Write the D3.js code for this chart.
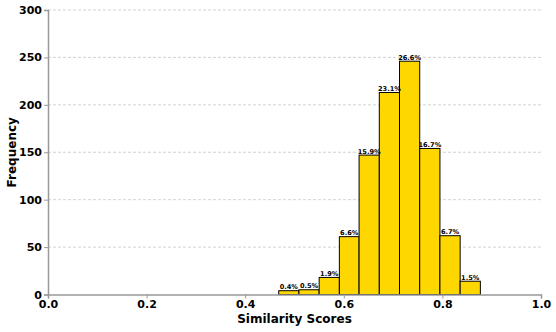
<!DOCTYPE html>
<html>
<head>
<meta charset="utf-8">
<script src="https://cdn.jsdelivr.net/npm/d3@7"></script>
<style>
  body { margin: 0; background: #fff; }
  text { font-family: "DejaVu Sans", sans-serif; font-weight: bold; }
</style>
</head>
<body>
<div id="chart"></div>
<script>
// histogram bins (edges) and counts
const binEdges = [0.468, 0.509, 0.550, 0.591, 0.631, 0.672, 0.713, 0.754, 0.795, 0.836, 0.877];
const counts = [4, 5, 18, 61, 147, 213, 246, 154, 62, 14];
const xTicks = [0, 0.2, 0.4, 0.6, 0.8, 1.0];
const yTicks = [0, 50, 100, 150, 200, 250, 300];

const total = d3.sum(counts);
const bins = counts.map((c, i) => ({ x0: binEdges[i], x1: binEdges[i + 1], count: c }));

const fullWidth = 556;
const fullHeight = 332;
const margin = { top: 10, right: 15, bottom: 37.5, left: 48 };
const width = fullWidth - margin.left - margin.right;
const height = fullHeight - margin.top - margin.bottom;

const svg = d3.select("#chart")
  .append("svg")
  .attr("width", fullWidth)
  .attr("height", fullHeight)
  .append("g")
  .attr("transform", `translate(${margin.left},${margin.top})`);

const x = d3.scaleLinear().domain([0, 1]).range([0, width]);
const y = d3.scaleLinear().domain([0, 300]).range([height, 0]);

// grid
svg.append("g")
  .selectAll("line")
  .data(yTicks.filter(d => d > 0))
  .enter()
  .append("line")
  .attr("x1", 0)
  .attr("x2", width)
  .attr("y1", d => y(d))
  .attr("y2", d => y(d))
  .attr("stroke", "#c8c8c8")
  .attr("stroke-width", 0.8)
  .attr("stroke-dasharray", "3,2");

// bars
svg.append("g")
  .selectAll("rect")
  .data(bins)
  .enter()
  .append("rect")
  .attr("x", d => x(d.x0))
  .attr("width", d => x(d.x1) - x(d.x0))
  .attr("y", d => y(d.count))
  .attr("height", d => height - y(d.count))
  .attr("fill", "#FFD700")
  .attr("stroke", "#000")
  .attr("stroke-width", 1);

// percentage labels
svg.append("g")
  .selectAll("text")
  .data(bins)
  .enter()
  .append("text")
  .attr("x", d => (x(d.x0) + x(d.x1)) / 2)
  .attr("y", d => y(d.count) - 1.5)
  .attr("text-anchor", "middle")
  .attr("font-size", "6.6px")
  .attr("fill", "#000")
  .text(d => (d.count / total * 100).toFixed(1) + "%");

// axes
const xAxis = d3.axisBottom(x).tickValues(xTicks).tickFormat(d3.format(".1f")).tickSizeOuter(0).tickSize(4).tickPadding(2);
const yAxis = d3.axisLeft(y).tickValues(yTicks).tickSizeOuter(0).tickSize(4).tickPadding(2);

const gx = svg.append("g")
  .attr("transform", `translate(0,${height})`)
  .call(xAxis);
const gy = svg.append("g").call(yAxis);

[gx, gy].forEach(g => {
  g.select(".domain").attr("stroke", "#999").attr("stroke-width", 1.5);
  g.selectAll(".tick line").attr("stroke", "#999").attr("stroke-width", 1);
  g.selectAll(".tick text")
    .attr("font-size", "11px")
    .attr("font-family", "DejaVu Sans")
    .attr("font-weight", "bold")
    .attr("fill", "#000");
});

svg.append("text")
  .attr("x", width / 2)
  .attr("y", height + 28.5)
  .attr("text-anchor", "middle")
  .attr("font-size", "12px")
  .text("Similarity Scores");

svg.append("text")
  .attr("transform", `translate(${16 - margin.left},${height / 2}) rotate(-90)`)
  .attr("text-anchor", "middle")
  .attr("font-size", "12px")
  .text("Frequency");
</script>
</body>
</html>
